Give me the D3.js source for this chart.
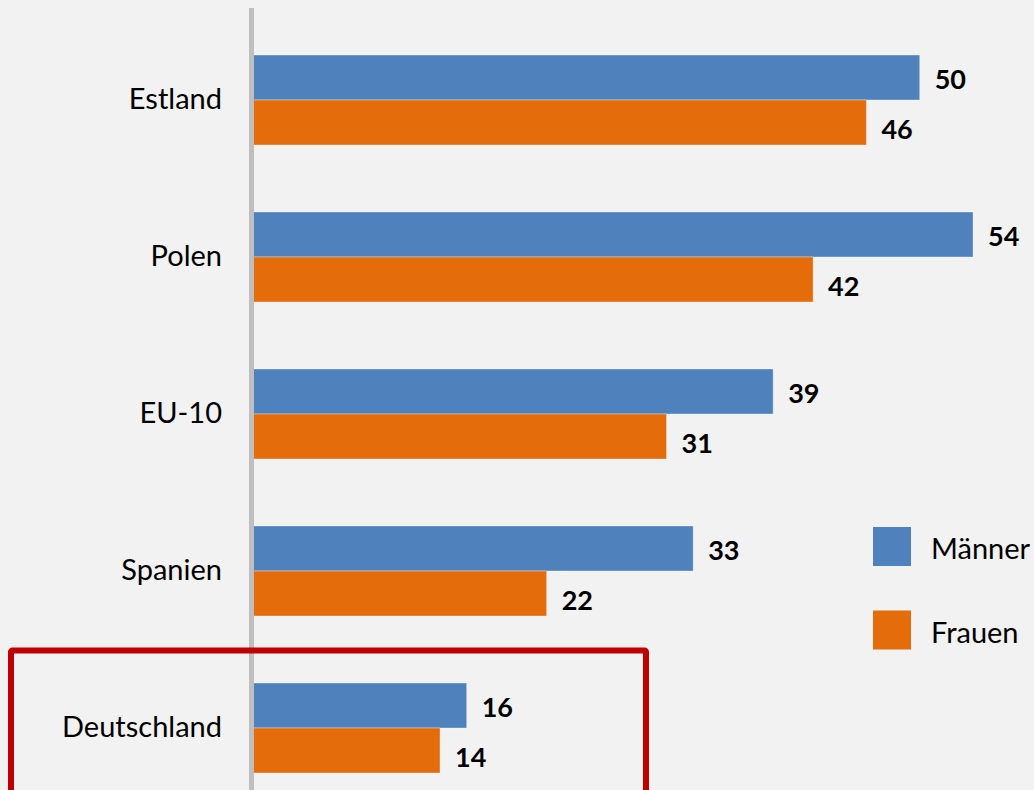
<!DOCTYPE html>
<html>
<head>
<meta charset="utf-8">
<script src="https://cdn.jsdelivr.net/npm/d3@7"></script>
<style>
  html, body { margin: 0; padding: 0; background: #f2f2f2; }
  svg { display: block; }
</style>
</head>
<body>
<svg id="chart" width="1034" height="790"></svg>
<script>
const categories = ["Estland", "Polen", "EU-10", "Spanien", "Deutschland"];
const seriesNames = ["Männer", "Frauen"];
const maenner = [50, 54, 39, 33, 16];
const frauen = [46, 42, 31, 22, 14];
const highlighted = ["Deutschland"];

const colors = { "Männer": "#4f81bd", "Frauen": "#e46c0a" };
const W = 1034, H = 790;
const svg = d3.select("#chart");
svg.append("rect").attr("width", W).attr("height", H).attr("fill", "#f2f2f2");

const rows = categories.map((c, i) => ({ cat: c, values: [
  { s: "Männer", v: maenner[i] }, { s: "Frauen", v: frauen[i] }
]}));

const x = d3.scaleLinear().domain([0, 54]).range([253.5, 973]);
const y = d3.scaleBand().domain(categories).range([21.5, 806.5])
  .paddingInner(0.4268).paddingOuter(0.2134);
const ys = d3.scaleBand().domain(seriesNames).range([0, y.bandwidth()]);

const font = "Lato, 'Open Sans', sans-serif";

// bars
const g = svg.append("g");
const grp = g.selectAll("g.grp").data(rows).join("g")
  .attr("transform", d => `translate(0,${y(d.cat)})`);
grp.selectAll("rect").data(d => d.values).join("rect")
  .attr("x", x(0))
  .attr("y", d => ys(d.s))
  .attr("width", d => x(d.v) - x(0))
  .attr("height", ys.bandwidth())
  .attr("fill", d => colors[d.s])
  .attr("stroke", "rgba(255,255,255,0.35)")
  .attr("stroke-width", 1);

grp.selectAll("text").data(d => d.values).join("text")
  .attr("x", d => x(d.v) + 15)
  .attr("y", d => ys(d.s) + ys.bandwidth() / 2 + (d.s === "Männer" ? 1 : 6))
  .attr("dominant-baseline", "central")
  .attr("font-family", font)
  .attr("font-weight", "bold")
  .attr("font-size", 27)
  .attr("fill", "#000")
  .text(d => d.v);

// vertical axis line
svg.append("line")
  .attr("x1", 251.5).attr("x2", 251.5)
  .attr("y1", 8).attr("y2", H)
  .attr("stroke", "#bfbfbf").attr("stroke-width", 5);

// category axis labels
const axis = svg.append("g").attr("transform", "translate(251.5,0)")
  .call(d3.axisLeft(y).tickSize(0).tickPadding(29.5));
axis.select(".domain").remove();
axis.selectAll("text")
  .attr("font-family", font)
  .attr("font-size", 29)
  .attr("fill", "#000");

// highlight box
const hb = y(highlighted[0]);
svg.append("rect")
  .attr("x", 11).attr("y", hb - 32.5)
  .attr("width", 635).attr("height", 180)
  .attr("fill", "none")
  .attr("stroke", "#c00000").attr("stroke-width", 6)
  .attr("rx", 1.5);

// legend
const legend = svg.append("g");
const ly = d3.scalePoint().domain(seriesNames).range([546.5, 630]);
seriesNames.forEach(s => {
  legend.append("rect")
    .attr("x", 873).attr("y", ly(s) - 19.5)
    .attr("width", 38).attr("height", 39)
    .attr("fill", colors[s]);
  legend.append("text")
    .attr("x", 931).attr("y", ly(s) + 1)
    .attr("dominant-baseline", "central")
    .attr("font-family", font)
    .attr("font-size", 29)
    .attr("fill", "#000")
    .text(s);
});
</script>
</body>
</html>
